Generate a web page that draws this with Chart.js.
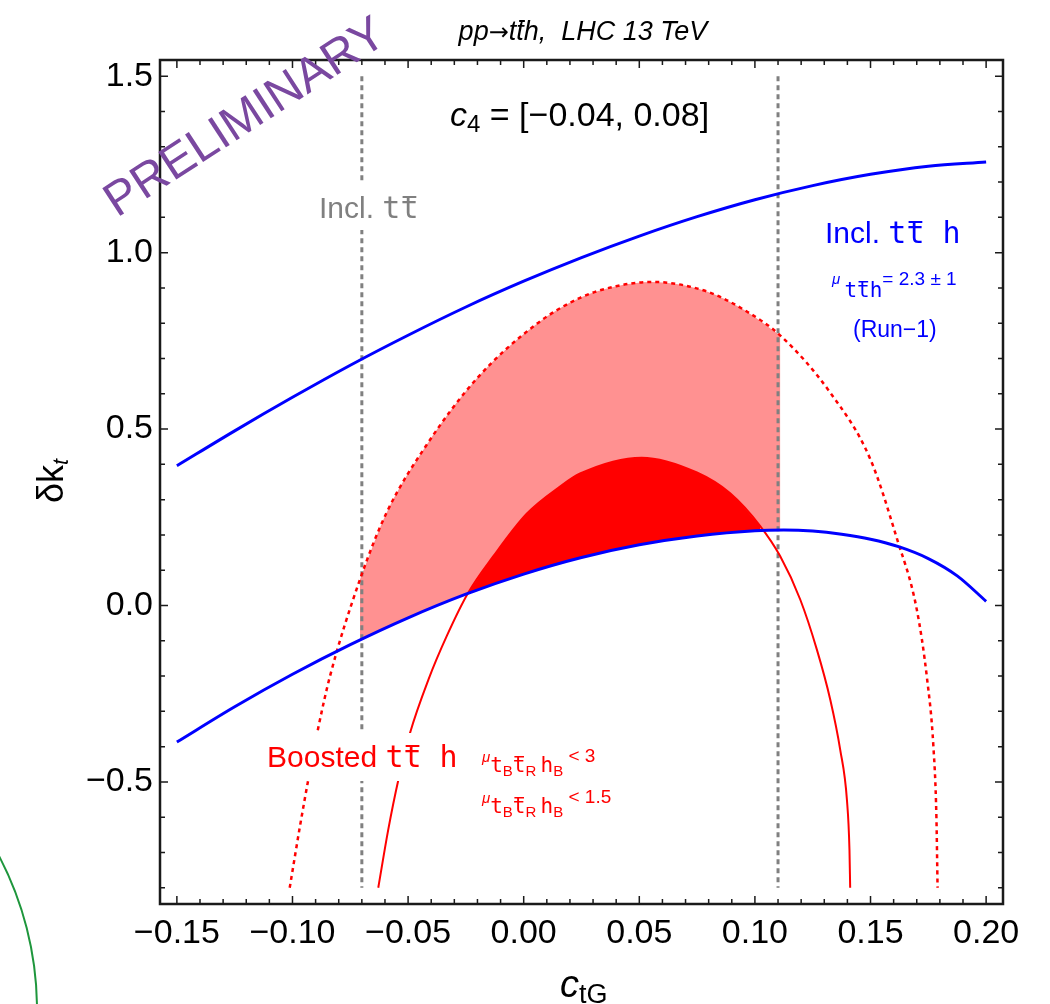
<!DOCTYPE html>
<html>
<head>
<meta charset="utf-8">
<script src="https://cdn.jsdelivr.net/npm/chart.js@4.4.1/dist/chart.umd.min.js"></script>
<style>
  html, body { margin: 0; padding: 0; background: #fff; }
</style>
</head>
<body>
<canvas id="plot" width="1050" height="1004"></canvas>
<script>
// inclusive ttH band, upper edge
var upperX = [-0.15, -0.125, -0.10, -0.075, -0.05, -0.025, 0, 0.025, 0.05, 0.075, 0.10, 0.125, 0.15, 0.175, 0.20];
var upperY = [0.396, 0.495, 0.590, 0.681, 0.766, 0.846, 0.919, 0.986, 1.047, 1.102, 1.150, 1.190, 1.222, 1.245, 1.257];

// inclusive ttH band, lower edge
var lowerX = [-0.15, -0.125, -0.10, -0.075, -0.05, -0.025, 0, 0.025, 0.05, 0.075, 0.10, 0.1125, 0.125, 0.1375, 0.15, 0.1625, 0.175, 0.1875, 0.20];
var lowerY = [-0.387, -0.287, -0.195, -0.111, -0.035, 0.032, 0.089, 0.136, 0.172, 0.197, 0.212, 0.214, 0.211, 0.202, 0.188, 0.166, 0.133, 0.084, 0.012];

// boosted, mu < 1.5 (solid)
var boostX = [-0.0629, -0.0586, -0.0542, -0.0492, -0.0412, -0.0333, -0.024, -0.0132, 0.0013, 0.0157, 0.0244, 0.051, 0.0749, 0.0893, 0.1023, 0.1109, 0.1196, 0.1268, 0.1326, 0.1369, 0.1398, 0.1409, 0.1412];
var boostY = [-0.80, -0.636, -0.494, -0.362, -0.210, -0.087, 0.036, 0.139, 0.260, 0.337, 0.374, 0.419, 0.377, 0.318, 0.225, 0.140, 0.017, -0.125, -0.267, -0.409, -0.551, -0.693, -0.80];

// boosted, mu < 3 (dotted)
var dotX = [-0.1012, -0.0968, -0.0925, -0.0888, -0.0838, -0.0708, -0.0593, -0.0420, -0.0203, 0.0056, 0.0244, 0.04, 0.0555, 0.0792, 0.095, 0.111, 0.1325, 0.1499, 0.1614, 0.170, 0.1745, 0.1772, 0.1785, 0.179];
var dotY = [-0.80, -0.627, -0.47, -0.345, -0.201, 0.074, 0.263, 0.455, 0.643, 0.798, 0.872, 0.905, 0.917, 0.890, 0.839, 0.765, 0.604, 0.415, 0.190, -0.011, -0.21, -0.40, -0.60, -0.80];

// inclusive ttbar limits
var ttbarX = [-0.07, 0.11];
var ttbarY = [1.50, -0.80];

var xTicks = ['−0.15', '−0.10', '−0.05', '0.00', '0.05', '0.10', '0.15', '0.20'];
var yTicks = ['−0.5', '0.0', '0.5', '1.0', '1.5'];

function pts(xs, ys) {
  return xs.map(function (x, i) { return { x: x, y: ys[i] }; });
}

var LS = '"Liberation Sans", Arial, sans-serif';
var MONO = '"DejaVu Sans Mono", monospace';

function drawRuns(ctx, x, y, parts, align) {
  var total = 0;
  parts.forEach(function (p) { ctx.font = p.f; p.w = ctx.measureText(p.t).width; total += p.w; });
  var cx = align === 'center' ? x - total / 2 : x;
  parts.forEach(function (p) {
    var by = y + (p.dy || 0);
    ctx.font = p.f;
    ctx.fillStyle = p.c;
    ctx.fillText(p.t, cx, by);
    if (p.ov) ctx.fillRect(cx + p.w * 0.12 + (p.sh || 0), by - p.ov, p.w * 0.76, p.lw || 2);
    cx += p.w;
  });
}

var overlay = {
  id: 'overlay',
  afterDatasetsDraw: function (chart) {
    var ctx = chart.ctx, a = chart.chartArea, xs = chart.scales.x, ys = chart.scales.y;
    ctx.save();
    ctx.textBaseline = 'alphabetic';
    ctx.textAlign = 'left';

    // white label backgrounds
    ctx.fillStyle = '#fff';
    ctx.fillRect(314, 184, 120, 46);
    ctx.fillRect(262, 733, 202, 48);

    // frame
    ctx.strokeStyle = '#1a1a1a';
    ctx.lineWidth = 2.5;
    ctx.strokeRect(a.left, a.top, a.right - a.left, a.bottom - a.top);

    // inward ticks on all four sides
    ctx.lineWidth = 1.5;
    ctx.beginPath();
    var i, v, p, len;
    for (i = -16; i <= 21; i++) {
      v = i / 100;
      if (v < xs.min || v > xs.max) continue;
      p = xs.getPixelForValue(v);
      len = i % 5 === 0 ? 8 : 5;
      ctx.moveTo(p, a.bottom); ctx.lineTo(p, a.bottom - len);
      ctx.moveTo(p, a.top); ctx.lineTo(p, a.top + len);
    }
    for (i = -8; i <= 15; i++) {
      v = i / 10;
      if (v < ys.min || v > ys.max) continue;
      p = ys.getPixelForValue(v);
      len = i % 5 === 0 ? 8 : 5;
      ctx.moveTo(a.left, p); ctx.lineTo(a.left + len, p);
      ctx.moveTo(a.right, p); ctx.lineTo(a.right - len, p);
    }
    ctx.stroke();

    // title
    var k = '#000';
    drawRuns(ctx, 583, 40, [
      { t: 'pp', f: 'italic 27px ' + LS, c: k },
      { t: '→', f: '24px "DejaVu Sans"', c: k },
      { t: 't', f: 'italic 27px ' + LS, c: k },
      { t: 't', f: 'italic 27px ' + LS, c: k, ov: 20, sh: 2 },
      { t: 'h,  LHC 13 TeV', f: 'italic 27px ' + LS, c: k }
    ], 'center');

    drawRuns(ctx, 450, 126, [
      { t: 'c', f: 'italic 34px ' + LS, c: k },
      { t: '4', f: '24px ' + LS, c: k, dy: 6 },
      { t: ' = [−0.04, 0.08]', f: '34px ' + LS, c: k }
    ]);

    var g = '#808080';
    drawRuns(ctx, 319, 218, [
      { t: 'Incl. ', f: '30px ' + LS, c: g },
      { t: 't', f: '30px ' + MONO, c: g },
      { t: 't', f: '30px ' + MONO, c: g, ov: 22 }
    ]);

    var b = '#0000ff';
    drawRuns(ctx, 825, 243, [
      { t: 'Incl. ', f: '30px ' + LS, c: b },
      { t: 't', f: '30px ' + MONO, c: b },
      { t: 't', f: '30px ' + MONO, c: b, ov: 22 },
      { t: ' h', f: '30px ' + MONO, c: b }
    ]);
    drawRuns(ctx, 832, 285, [
      { t: 'μ ', f: 'italic 15px ' + LS, c: b, dy: -1 },
      { t: 't', f: '21px ' + MONO, c: b, dy: 12 },
      { t: 't', f: '21px ' + MONO, c: b, dy: 12, ov: 16, lw: 1.5 },
      { t: 'h', f: '21px ' + MONO, c: b, dy: 12 },
      { t: '= 2.3 ± 1', f: '19px ' + LS, c: b }
    ]);
    drawRuns(ctx, 853, 337, [{ t: '(Run−1)', f: '23px ' + LS, c: b }]);

    var r = '#ff0000';
    drawRuns(ctx, 267, 767, [
      { t: 'Boosted ', f: '30px ' + LS, c: r },
      { t: 't', f: '30px ' + MONO, c: r },
      { t: 't', f: '30px ' + MONO, c: r, ov: 22 },
      { t: ' h', f: '30px ' + MONO, c: r }
    ]);
    [['< 3', 762], ['< 1.5', 803]].forEach(function (row) {
      drawRuns(ctx, 482, row[1], [
        { t: 'μ', f: 'italic 15px ' + LS, c: r },
        { t: 't', f: '21px ' + MONO, c: r, dy: 10 },
        { t: 'B', f: '15px ' + LS, c: r, dy: 14 },
        { t: 't', f: '21px ' + MONO, c: r, dy: 10, ov: 16, lw: 1.5 },
        { t: 'R', f: '15px ' + LS, c: r, dy: 14 },
        { t: ' ', f: '15px ' + LS, c: r },
        { t: 'h', f: '21px ' + MONO, c: r, dy: 10 },
        { t: 'B', f: '15px ' + LS, c: r, dy: 14 },
        { t: ' ' + row[0], f: '19px ' + LS, c: r }
      ]);
    });

    // axis titles
    drawRuns(ctx, 560, 997, [
      { t: 'c', f: 'italic 38px ' + LS, c: k },
      { t: 'tG', f: '27px ' + LS, c: k, dy: 6 }
    ]);
    ctx.save();
    ctx.translate(63, 503);
    ctx.rotate(-Math.PI / 2);
    drawRuns(ctx, 0, 0, [
      { t: 'δk', f: '36px ' + LS, c: k },
      { t: 't', f: 'italic 22px ' + LS, c: k, dy: 5 }
    ]);
    ctx.restore();

    // watermark
    ctx.save();
    ctx.translate(117, 218);
    ctx.rotate(-33 * Math.PI / 180);
    ctx.font = '48px ' + LS;
    ctx.fillStyle = 'rgb(122,72,160)';
    ctx.fillText('PRELIMINARY', 0, 0);
    ctx.restore();

    // stray arc at the lower left
    ctx.beginPath();
    ctx.strokeStyle = 'rgb(30,150,60)';
    ctx.lineWidth = 2;
    ctx.arc(-294, 1010, 331, -0.55, 0.05);
    ctx.stroke();

    ctx.restore();
  }
};

var ctx = document.getElementById('plot').getContext('2d');

var pinkFill = pts(dotX, dotY).filter(function (q) { return q.x >= -0.071 && q.x <= 0.112; });
var redFill = pts(boostX, boostY).filter(function (q) { return q.x >= -0.025 && q.x <= 0.104; });

var straight = { tension: 0, cubicInterpolationMode: 'default' };

new Chart(ctx, {
  type: 'line',
  data: {
    datasets: [
      { label: 'upper', data: pts(upperX, upperY), borderColor: '#0000ff', borderWidth: 3, order: 0 },
      { label: 'lower', data: pts(lowerX, lowerY), borderColor: '#0000ff', borderWidth: 3, order: 0 },
      { label: 'boost15', data: pts(boostX, boostY), borderColor: '#ff0000', borderWidth: 2, order: 0 },
      { label: 'boost3', data: pts(dotX, dotY), borderColor: '#ff0000', borderWidth: 2.5, borderDash: [4, 4], order: 0 },
      Object.assign({ label: 'ttbarL', data: [{ x: ttbarX[0], y: ttbarY[0] }, { x: ttbarX[0], y: ttbarY[1] }], borderColor: '#808080', borderWidth: 3, borderDash: [5, 4], order: 0 }, straight),
      Object.assign({ label: 'ttbarR', data: [{ x: ttbarX[1], y: ttbarY[0] }, { x: ttbarX[1], y: ttbarY[1] }], borderColor: '#808080', borderWidth: 3, borderDash: [5, 4], order: 0 }, straight),
      { label: 'fill15', data: redFill, borderWidth: 0, borderColor: 'rgba(0,0,0,0)', backgroundColor: '#ff0000', fill: 1, order: 1 },
      { label: 'fill3', data: pinkFill, borderWidth: 0, borderColor: 'rgba(0,0,0,0)', backgroundColor: '#ff9191', fill: 1, order: 2 }
    ]
  },
  options: {
    responsive: false,
    devicePixelRatio: 1,
    animation: false,
    datasets: { line: { pointRadius: 0, cubicInterpolationMode: 'monotone', fill: false } },
    layout: { padding: { top: 60, right: 47, left: 0, bottom: 0 } },
    plugins: { legend: { display: false }, tooltip: { enabled: false } },
    scales: {
      x: {
        type: 'linear',
        min: -0.1573,
        max: 0.2073,
        grid: { display: false, drawTicks: false },
        border: { display: false },
        afterFit: function (s) { s.height = 100; },
        ticks: {
          stepSize: 0.05,
          includeBounds: false,
          autoSkip: false,
          maxRotation: 0,
          padding: 9,
          color: '#000',
          font: { family: 'Liberation Sans', size: 34 },
          callback: function (v) { return xTicks[Math.round((v + 0.15) / 0.05)]; }
        }
      },
      y: {
        type: 'linear',
        min: -0.846,
        max: 1.546,
        grid: { display: false, drawTicks: false },
        border: { display: false },
        afterFit: function (s) { s.width = 160; },
        ticks: {
          stepSize: 0.5,
          includeBounds: false,
          padding: 7,
          color: '#000',
          font: { family: 'Liberation Sans', size: 34 },
          callback: function (v) { return yTicks[Math.round((v + 0.5) / 0.5)]; }
        }
      }
    }
  },
  plugins: [overlay]
});
</script>
</body>
</html>
